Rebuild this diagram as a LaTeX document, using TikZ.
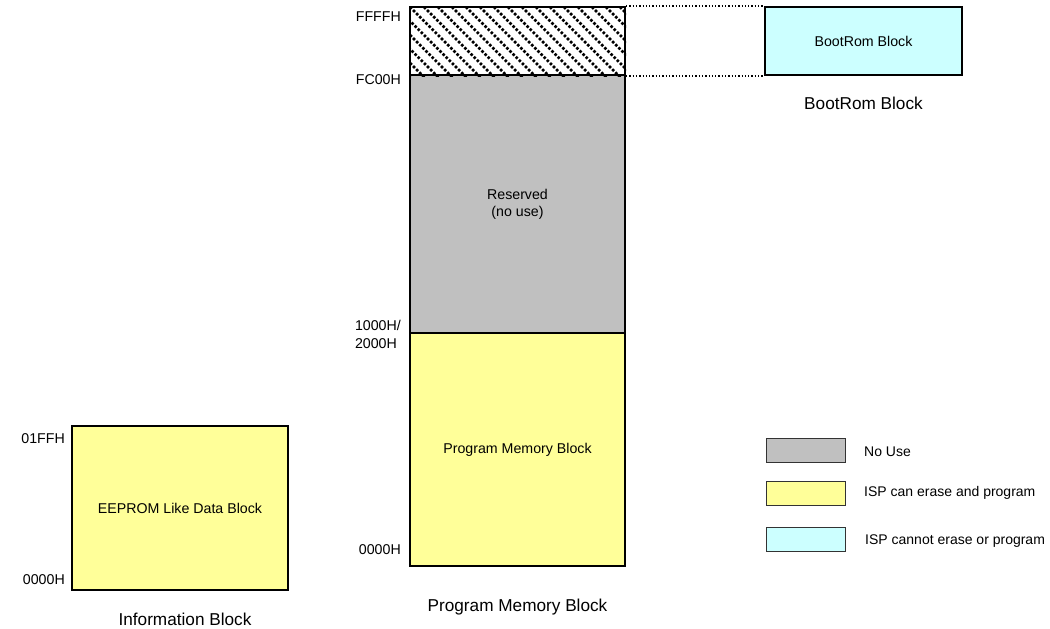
\documentclass[tikz,border=0pt]{standalone}
\usepackage{fontspec}
\setmainfont{Liberation Sans}
\definecolor{grayfill}{HTML}{C0C0C0}
\definecolor{yelfill}{HTML}{FFFF99}
\definecolor{cyanfill}{HTML}{CCFFFF}
\begin{document}
\begin{tikzpicture}[x=1pt,y=-1pt,
  blk/.style={draw=black,line width=2pt,inner sep=0pt,align=center,font=\fontsize{14.2}{17}\selectfont},
  lg/.style={draw=black!80,line width=0.8pt,inner sep=0pt,minimum width=79pt,minimum height=24pt},
  addr/.style={font=\fontsize{14.2}{18}\selectfont,anchor=east,align=left,inner sep=0pt},
  captxt/.style={font=\fontsize{17.2}{20}\selectfont,inner sep=0pt},
  lgt/.style={font=\fontsize{14}{16}\selectfont,anchor=west,inner sep=0pt}]
\useasboundingbox (0,0) rectangle (1050,629);
% program memory column
\node[blk,fill=grayfill,minimum width=215pt,minimum height=258pt] (res) at (517.5,204) {Reserved\\(no use)};
\node[blk,fill=yelfill,minimum width=215pt,minimum height=233pt] (pm) at (517.5,449.5) {Program Memory Block};
% hatched region
\node[blk,fill=white,minimum width=215pt,minimum height=68pt] (hat) at (517.5,41) {};
\begin{scope}
\clip (hat.north west) rectangle (hat.south east);
\foreach \i in {-84,-70,...,230} {
  \draw[line width=2.6pt,dash pattern=on 2.6pt off 1.8pt] (410+\i,7) -- (410+\i+80,87);
}
\end{scope}
\node[blk,fill=none,minimum width=215pt,minimum height=68pt] at (517.5,41) {};
% bootrom
\node[blk,fill=cyanfill,minimum width=197pt,minimum height=68pt] (boot) at (863.5,41) {BootRom Block};
\draw[dotted,line width=1.3pt] (hat.north east) -- (boot.north west);
\draw[dotted,line width=1.3pt] (hat.south east) -- (boot.south west);
\node[captxt] (bootcap) at (863.5,103) {BootRom Block};
% info block
\node[blk,fill=yelfill,minimum width=216pt,minimum height=164pt] (info) at (180,508) {EEPROM Like Data Block};
\node[captxt] (infocap) at (185,619) {Information Block};
\node[captxt] (pmcap) at (517.5,607) {Program Memory Block};
% addresses
\node[addr] (a1) at (401,17) {FFFFH};
\node[addr] (a2) at (401,80) {FC00H};
\node[addr] (a3) at (401,334) {1000H/\\2000H};
\node[addr] (a4) at (401,550) {0000H};
\node[addr] (a5) at (65,439) {01FFH};
\node[addr] (a6) at (65,580) {0000H};
% legend
\node[lg,fill=grayfill] (l1) at (805.5,450) {};
\node[lg,fill=yelfill] (l2) at (805.5,493) {};
\node[lg,fill=cyanfill] (l3) at (805.5,539) {};
\node[lgt] (t1) at (864,452) {No Use};
\node[lgt] (t2) at (864,493) {ISP can erase and program};
\node[lgt] (t3) at (865,541) {ISP cannot erase or program};
\end{tikzpicture}
\end{document}
